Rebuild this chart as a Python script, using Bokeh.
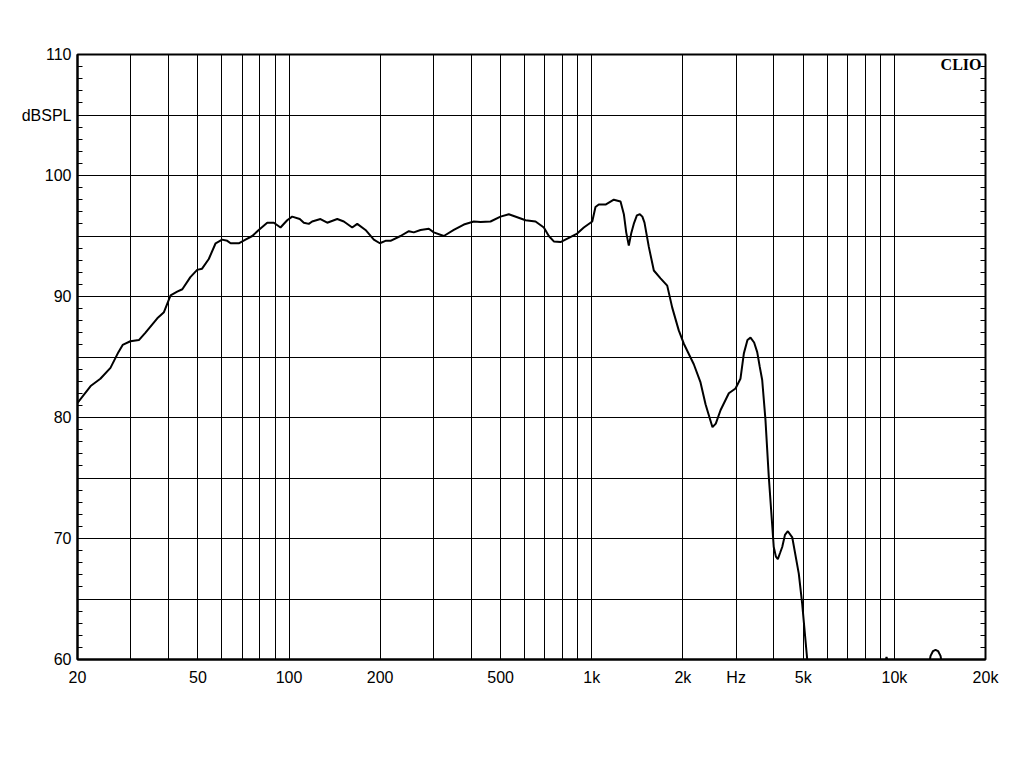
from bokeh.plotting import figure
from bokeh.models import FixedTicker, LinearAxis, Label, Range1d
from bokeh.embed import file_html
from bokeh.resources import INLINE

freq = [20, 22.1, 23.8, 25.7, 27.3, 28.2, 29.9, 31.9, 33.5, 36.7, 38.6, 40.6, 42.7, 44.4,
        47.2, 49.7, 51.6, 54.3, 57.2, 60.1, 62.5, 64.1, 68.2, 71.8, 75.6, 79.4, 84.7, 89.1,
        93.7, 98.6, 102.4, 108.5, 111.9, 116.2, 119.2, 127.0, 133.7, 144.3, 151.7, 161.7,
        168.0, 178.9, 190.6, 199.5, 208.2, 216.4, 233.5, 248.8, 258.3, 271.9, 289.6, 300.8,
        324.6, 350.2, 378.0, 407.8, 429.3, 463.1, 499.7, 532.2, 567.5, 604.3, 652.2, 694.7,
        721.5, 749.5, 788.6, 840.2, 895.3, 941.6, 1004, 1029, 1055, 1111, 1183, 1245, 1277,
        1300, 1326, 1350, 1377, 1410, 1442, 1470, 1494, 1544, 1604, 1688, 1776, 1844, 1939,
        2015, 2174, 2288, 2377, 2450, 2506, 2570, 2664, 2838, 2986, 3100, 3182, 3270, 3347,
        3440, 3522, 3590, 3658, 3750, 3846, 3994, 4060, 4120, 4190, 4260, 4350, 4446, 4597,
        4832, 4959, 5152, 5366, 8998, 9300, 9418, 9560, 9860, 12677, 13168, 13420, 13676,
        13940, 14206, 14756, 20000]
spl = [81.2, 82.6, 83.2, 84.1, 85.4, 86.0, 86.3, 86.4, 87.0, 88.2, 88.7, 90.1, 90.4, 90.6,
       91.6, 92.2, 92.3, 93.1, 94.4, 94.7, 94.6, 94.4, 94.4, 94.7, 95.0, 95.5, 96.1, 96.1,
       95.7, 96.3, 96.6, 96.4, 96.1, 96.0, 96.2, 96.4, 96.1, 96.4, 96.2, 95.7, 96.0, 95.5,
       94.7, 94.4, 94.6, 94.6, 95.0, 95.4, 95.3, 95.5, 95.6, 95.3, 95.0, 95.5, 95.95, 96.2,
       96.15, 96.2, 96.6, 96.8, 96.55, 96.3, 96.2, 95.7, 95.0, 94.55, 94.5, 94.85, 95.2,
       95.7, 96.2, 97.4, 97.6, 97.6, 98.0, 97.85, 96.8,
       95.3, 94.2, 95.2, 96.0, 96.7, 96.8, 96.6, 96.1, 94.1, 92.15, 91.5, 90.9, 89.1, 87.2,
       86.1, 84.4, 82.9, 81.1, 80.0, 79.2, 79.5, 80.6, 82.0, 82.4, 83.2, 85.3, 86.4, 86.6,
       86.2, 85.4, 84.2, 83.1, 79.8, 75.1, 69.3, 68.5, 68.3, 68.8, 69.3, 70.3, 70.6, 70.1,
       67.1, 64.6, 60.0, 58.0, 58.0, 59.6, 60.2, 59.6, 58.0, 58.0, 60.3, 60.7, 60.8,
       60.7, 60.3, 58.0, 57.0]

x_ticks = [20, 30, 40, 50, 60, 70, 80, 90, 100, 200, 300, 400, 500, 600, 700, 800, 900,
           1000, 2000, 3000, 4000, 5000, 6000, 7000, 8000, 9000, 10000, 20000]
x_labels = {20: "20", 50: "50", 100: "100", 200: "200", 500: "500", 1000: "1k",
            2000: "2k", 3000: "Hz", 5000: "5k", 10000: "10k", 20000: "20k"}
y_ticks = [60, 65, 70, 75, 80, 85, 90, 95, 100, 105, 110]
y_labels = {60: "60", 65: "", 70: "70", 75: "", 80: "80", 85: "", 90: "90", 95: "",
            100: "100", 105: "dBSPL", 110: "110"}
y_minor = [v for v in range(60, 111)]

W, H = 1016, 753
p = figure(width=W, height=H, x_axis_type="log", output_backend="svg",
           toolbar_location=None, x_range=Range1d(20, 20000), y_range=Range1d(60, 110),
           min_border_left=77, min_border_right=31, min_border_top=54, min_border_bottom=94)
p.background_fill_color = "white"
p.border_fill_color = "white"
p.outline_line_color = "black"
p.outline_line_width = 2

xt = FixedTicker(ticks=x_ticks, minor_ticks=[])
yt = FixedTicker(ticks=y_ticks, minor_ticks=y_minor)

xa = p.xaxis[0]
xa.ticker = xt
xa.major_label_overrides = {k: x_labels.get(k, "") for k in x_ticks}
xa.major_tick_in = 0
xa.major_tick_out = 0
xa.minor_tick_in = 0
xa.minor_tick_out = 0
xa.axis_line_width = 2
xa.axis_line_color = "black"
xa.major_label_text_font = "Liberation Sans"
xa.major_label_text_font_size = "16px"
xa.major_label_text_color = "black"
xa.major_label_standoff = 9

ya = p.yaxis[0]
ya.ticker = yt
ya.major_label_overrides = y_labels
ya.major_tick_in = 0
ya.major_tick_out = 0
ya.minor_tick_in = 5
ya.minor_tick_out = 0
ya.minor_tick_line_color = "black"
ya.axis_line_width = 2
ya.axis_line_color = "black"
ya.major_label_text_font = "Liberation Sans"
ya.major_label_text_font_size = "16px"
ya.major_label_text_color = "black"
ya.major_label_standoff = 6

ra = LinearAxis(ticker=FixedTicker(ticks=y_ticks, minor_ticks=y_minor))
ra.major_label_overrides = {k: "" for k in y_ticks}
ra.major_label_text_font_size = "0px"
ra.major_tick_in = 0
ra.major_tick_out = 0
ra.minor_tick_in = 5
ra.minor_tick_out = 0
ra.minor_tick_line_color = "black"
ra.axis_line_width = 1
ra.axis_line_color = "black"
p.add_layout(ra, "right")

p.xgrid.ticker = xt
p.ygrid.ticker = FixedTicker(ticks=y_ticks)
for g in (p.xgrid[0], p.ygrid[0]):
    g.grid_line_color = "black"
    g.grid_line_width = 1
    g.grid_line_alpha = 1.0

p.line(freq, spl, line_color="black", line_width=2)

p.add_layout(Label(x=19400, y=109.85, text="CLIO", text_font="Liberation Serif",
                   text_font_style="bold", text_font_size="16px", text_color="black",
                   text_align="right", text_baseline="top"))

open("out.html", "w").write(file_html(p, INLINE))
